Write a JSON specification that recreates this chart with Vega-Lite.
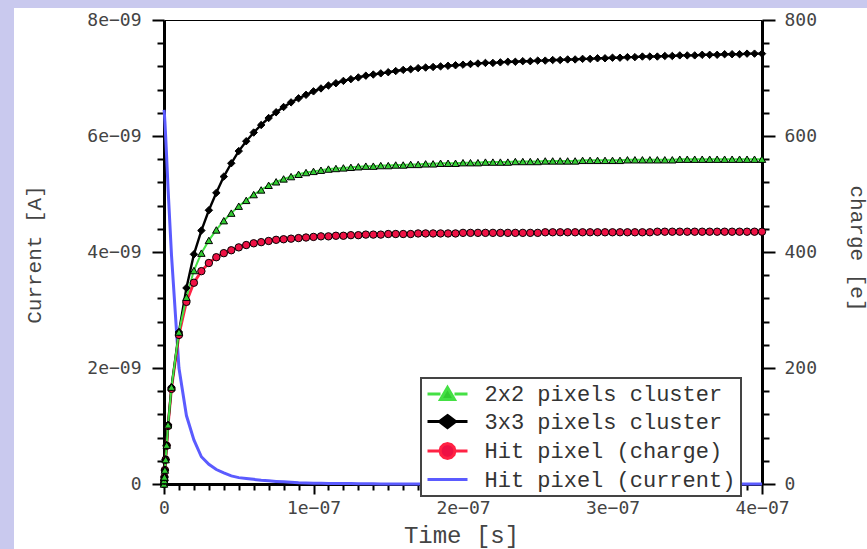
{
  "$schema": "https://vega.github.io/schema/vega-lite/v6.json",
  "width": 853,
  "height": 541,
  "autosize": "none",
  "padding": {"left": 14, "top": 8, "right": 0, "bottom": 0},
  "background": "#c9c9ee",
  "config": {
    "view": {"fill": "white", "stroke": null},
    "axis": {
      "grid": false,
      "zindex": 1,
      "domainColor": "black",
      "domainWidth": 3,
      "tickColor": "black",
      "tickWidth": 2,
      "labelFont": "DejaVu Sans Mono",
      "labelFontSize": 18,
      "labelColor": "#444",
      "labelOverlap": false,
      "labelFlush": false,
      "titleFont": "Liberation Mono",
      "titleFontWeight": "normal",
      "titleColor": "#444"
    }
  },
  "data": {
    "values": [
      {"t": 0, "c2": 0, "c3": 0, "hit": 0, "cur": 6.45e-9},
      {"t": 1.5e-10, "c2": 6, "c3": 6, "hit": 6, "cur": 6.42e-9},
      {"t": 3e-10, "c2": 12, "c3": 12, "hit": 12, "cur": 6.37e-9},
      {"t": 6e-10, "c2": 24, "c3": 24, "hit": 24, "cur": 6.25e-9},
      {"t": 1.1e-9, "c2": 42, "c3": 42, "hit": 42, "cur": 6.0e-9},
      {"t": 1.8e-9, "c2": 67, "c3": 67, "hit": 66, "cur": 5.62e-9},
      {"t": 2.7e-9, "c2": 102, "c3": 102, "hit": 100, "cur": 5.1e-9},
      {"t": 5e-9, "c2": 167, "c3": 167, "hit": 164, "cur": 3.95e-9},
      {"t": 1e-8, "c2": 262, "c3": 262, "hit": 257, "cur": 2.0e-9},
      {"t": 1.5e-8, "c2": 322, "c3": 338, "hit": 314, "cur": 1.18e-9},
      {"t": 2e-8, "c2": 368, "c3": 396, "hit": 347, "cur": 7.6e-10},
      {"t": 2.5e-8, "c2": 398, "c3": 437, "hit": 367, "cur": 4.7e-10},
      {"t": 3e-8, "c2": 420, "c3": 472, "hit": 381, "cur": 3.4e-10},
      {"t": 3.5e-8, "c2": 438, "c3": 502, "hit": 391, "cur": 2.5e-10},
      {"t": 4e-8, "c2": 454, "c3": 530, "hit": 398, "cur": 1.9e-10},
      {"t": 4.5e-8, "c2": 467, "c3": 553, "hit": 403, "cur": 1.4e-10},
      {"t": 5e-8, "c2": 479, "c3": 574, "hit": 408, "cur": 1.1e-10},
      {"t": 5.5e-8, "c2": 489, "c3": 591, "hit": 412, "cur": 9.5e-11},
      {"t": 6e-8, "c2": 499, "c3": 606, "hit": 415, "cur": 8e-11},
      {"t": 6.5e-8, "c2": 507, "c3": 619, "hit": 417, "cur": 6.5e-11},
      {"t": 7e-8, "c2": 515, "c3": 631, "hit": 419, "cur": 5.5e-11},
      {"t": 7.5e-8, "c2": 521, "c3": 641, "hit": 421, "cur": 4.5e-11},
      {"t": 8e-8, "c2": 526, "c3": 650, "hit": 422, "cur": 3.7e-11},
      {"t": 8.5e-8, "c2": 530, "c3": 658, "hit": 423, "cur": 3e-11},
      {"t": 9e-8, "c2": 534, "c3": 665, "hit": 424, "cur": 2.2e-11},
      {"t": 9.5e-8, "c2": 537, "c3": 671, "hit": 425, "cur": 1.8e-11},
      {"t": 1e-7, "c2": 539, "c3": 677, "hit": 426, "cur": 1.5e-11},
      {"t": 1.05e-7, "c2": 541, "c3": 682, "hit": 427, "cur": 1.2e-11},
      {"t": 1.1e-7, "c2": 543, "c3": 687, "hit": 427, "cur": 1e-11},
      {"t": 1.15e-7, "c2": 544, "c3": 691, "hit": 428, "cur": 9e-12},
      {"t": 1.2e-7, "c2": 545, "c3": 695, "hit": 428, "cur": 8e-12},
      {"t": 1.25e-7, "c2": 546, "c3": 698, "hit": 429, "cur": 7e-12},
      {"t": 1.3e-7, "c2": 547, "c3": 701, "hit": 429, "cur": 6e-12},
      {"t": 1.35e-7, "c2": 548, "c3": 704, "hit": 430, "cur": 4e-12},
      {"t": 1.4e-7, "c2": 548, "c3": 706, "hit": 430, "cur": 3e-12},
      {"t": 1.45e-7, "c2": 549, "c3": 708, "hit": 430, "cur": 2e-12},
      {"t": 1.5e-7, "c2": 549, "c3": 710, "hit": 431, "cur": 2e-12},
      {"t": 1.55e-7, "c2": 550, "c3": 712, "hit": 431, "cur": 1e-12},
      {"t": 1.6e-7, "c2": 550, "c3": 714, "hit": 431, "cur": 1e-12},
      {"t": 1.65e-7, "c2": 551, "c3": 715, "hit": 431, "cur": 0},
      {"t": 1.7e-7, "c2": 551, "c3": 717, "hit": 432, "cur": 0},
      {"t": 1.75e-7, "c2": 552, "c3": 718, "hit": 432, "cur": 0},
      {"t": 1.8e-7, "c2": 552, "c3": 719, "hit": 432, "cur": 0},
      {"t": 1.85e-7, "c2": 553, "c3": 720, "hit": 432, "cur": 0},
      {"t": 1.9e-7, "c2": 553, "c3": 721, "hit": 432, "cur": 0},
      {"t": 1.95e-7, "c2": 553, "c3": 722, "hit": 432, "cur": 0},
      {"t": 2e-7, "c2": 554, "c3": 723, "hit": 433, "cur": 0},
      {"t": 2.05e-7, "c2": 554, "c3": 724, "hit": 433, "cur": 0},
      {"t": 2.1e-7, "c2": 554, "c3": 725, "hit": 433, "cur": 0},
      {"t": 2.15e-7, "c2": 555, "c3": 726, "hit": 433, "cur": 0},
      {"t": 2.2e-7, "c2": 555, "c3": 726, "hit": 433, "cur": 0},
      {"t": 2.25e-7, "c2": 555, "c3": 727, "hit": 433, "cur": 0},
      {"t": 2.3e-7, "c2": 555, "c3": 728, "hit": 433, "cur": 0},
      {"t": 2.35e-7, "c2": 556, "c3": 728, "hit": 433, "cur": 0},
      {"t": 2.4e-7, "c2": 556, "c3": 729, "hit": 433, "cur": 0},
      {"t": 2.45e-7, "c2": 556, "c3": 729, "hit": 433, "cur": 0},
      {"t": 2.5e-7, "c2": 556, "c3": 730, "hit": 433, "cur": 0},
      {"t": 2.55e-7, "c2": 557, "c3": 730, "hit": 434, "cur": 0},
      {"t": 2.6e-7, "c2": 557, "c3": 731, "hit": 434, "cur": 0},
      {"t": 2.65e-7, "c2": 557, "c3": 731, "hit": 434, "cur": 0},
      {"t": 2.7e-7, "c2": 557, "c3": 732, "hit": 434, "cur": 0},
      {"t": 2.75e-7, "c2": 557, "c3": 732, "hit": 434, "cur": 0},
      {"t": 2.8e-7, "c2": 558, "c3": 733, "hit": 434, "cur": 0},
      {"t": 2.85e-7, "c2": 558, "c3": 733, "hit": 434, "cur": 0},
      {"t": 2.9e-7, "c2": 558, "c3": 734, "hit": 434, "cur": 0},
      {"t": 2.95e-7, "c2": 558, "c3": 734, "hit": 434, "cur": 0},
      {"t": 3e-7, "c2": 558, "c3": 735, "hit": 434, "cur": 0},
      {"t": 3.05e-7, "c2": 558, "c3": 735, "hit": 434, "cur": 0},
      {"t": 3.1e-7, "c2": 559, "c3": 736, "hit": 434, "cur": 0},
      {"t": 3.15e-7, "c2": 559, "c3": 736, "hit": 434, "cur": 0},
      {"t": 3.2e-7, "c2": 559, "c3": 737, "hit": 434, "cur": 0},
      {"t": 3.25e-7, "c2": 559, "c3": 737, "hit": 434, "cur": 0},
      {"t": 3.3e-7, "c2": 559, "c3": 737, "hit": 435, "cur": 0},
      {"t": 3.35e-7, "c2": 559, "c3": 738, "hit": 435, "cur": 0},
      {"t": 3.4e-7, "c2": 559, "c3": 738, "hit": 435, "cur": 0},
      {"t": 3.45e-7, "c2": 560, "c3": 739, "hit": 435, "cur": 0},
      {"t": 3.5e-7, "c2": 560, "c3": 739, "hit": 435, "cur": 0},
      {"t": 3.55e-7, "c2": 560, "c3": 739, "hit": 435, "cur": 0},
      {"t": 3.6e-7, "c2": 560, "c3": 740, "hit": 435, "cur": 0},
      {"t": 3.65e-7, "c2": 560, "c3": 740, "hit": 435, "cur": 0},
      {"t": 3.7e-7, "c2": 560, "c3": 740, "hit": 435, "cur": 0},
      {"t": 3.75e-7, "c2": 560, "c3": 741, "hit": 435, "cur": 0},
      {"t": 3.8e-7, "c2": 560, "c3": 741, "hit": 435, "cur": 0},
      {"t": 3.85e-7, "c2": 560, "c3": 741, "hit": 435, "cur": 0},
      {"t": 3.9e-7, "c2": 560, "c3": 742, "hit": 435, "cur": 0},
      {"t": 3.95e-7, "c2": 560, "c3": 742, "hit": 435, "cur": 0},
      {"t": 4e-7, "c2": 560, "c3": 742, "hit": 435, "cur": 0}
    ]
  },
  "layer": [
    {
      "mark": {"type": "line", "strokeWidth": 3},
      "encoding": {
        "x": {
          "field": "t",
          "type": "quantitative",
          "scale": {"domain": [0, 4e-7], "range": [150, 748], "nice": false},
          "axis": {
            "orient": "bottom",
            "offset": -65,
            "values": [0, 1e-8, 2e-8, 3e-8, 4e-8, 5e-8, 6e-8, 7e-8, 8e-8, 9e-8, 1e-7, 1.1e-7, 1.2e-7, 1.3e-7, 1.4e-7, 1.5e-7, 1.6e-7, 1.7e-7, 1.8e-7, 1.9e-7, 2e-7, 2.1e-7, 2.2e-7, 2.3e-7, 2.4e-7, 2.5e-7, 2.6e-7, 2.7e-7, 2.8e-7, 2.9e-7, 3e-7, 3.1e-7, 3.2e-7, 3.3e-7, 3.4e-7, 3.5e-7, 3.6e-7, 3.7e-7, 3.8e-7, 3.9e-7, 4e-7],
            "tickSize": {"condition": {"test": "abs(datum.value*1e7 - round(datum.value*1e7)) < 0.01", "value": 10}, "value": 6},
            "labelExpr": "abs(datum.value*1e7 - round(datum.value*1e7)) < 0.01 ? (datum.value == 0 ? '0' : round(datum.value*1e7) + 'e−07') : ''",
            "labelPadding": 5,
            "title": "Time [s]",
            "titleFontSize": 24,
            "titleX": 447,
            "titleY": 58,
            "titleAlign": "center",
            "titleBaseline": "alphabetic"
          }
        },
        "y": {
          "field": "cur",
          "type": "quantitative",
          "scale": {"domain": [0, 8e-9], "range": [476, 12], "nice": false, "zero": true},
          "axis": {
            "orient": "left",
            "offset": -150,
            "values": [0, 4e-10, 8e-10, 1.2e-9, 1.6e-9, 2e-9, 2.4e-9, 2.8e-9, 3.2e-9, 3.6e-9, 4e-9, 4.4e-9, 4.8e-9, 5.2e-9, 5.6e-9, 6e-9, 6.4e-9, 6.8e-9, 7.2e-9, 7.6e-9, 8e-9],
            "tickSize": {"condition": {"test": "abs(datum.value*5e8 - round(datum.value*5e8)) < 0.01", "value": 12}, "value": 7},
            "labelExpr": "abs(datum.value*5e8 - round(datum.value*5e8)) < 0.01 ? (datum.value == 0 ? '0' : round(datum.value*1e9) + 'e−09') : ''",
            "labelPadding": 11,
            "title": "Current [A]",
            "titleFontSize": 21,
            "titleAngle": -90,
            "titleX": -124,
            "titleY": 246,
            "titleAlign": "center",
            "titleBaseline": "alphabetic"
          }
        },
        "color": {
          "datum": "cur",
          "type": "nominal",
          "scale": {"domain": ["c2", "c3", "hit", "cur"], "range": ["#44e044", "#000000", "#ff2244", "#5b5bff"]},
          "legend": {
            "orient": "none",
            "legendX": 407,
            "legendY": 370,
            "title": null,
            "symbolType": "M-4,0H4",
            "symbolSize": 100,
            "symbolStrokeWidth": 3,
            "symbolOffset": 10.5,
            "labelOffset": 26,
            "labelFont": "Liberation Mono",
            "labelFontSize": 22,
            "labelLimit": 400,
            "labelColor": "#333",
            "labelExpr": "{'c2': '2x2 pixels cluster', 'c3': '3x3 pixels cluster', 'hit': 'Hit pixel (charge)', 'cur': 'Hit pixel (current)'}[datum.value]",
            "rowPadding": 3.5,
            "padding": 5,
            "fillColor": "white",
            "strokeColor": "#444",
            "encode": {
              "legend": {"update": {"strokeWidth": {"value": 2}}},
              "symbols": {
                "update": {
                  "shape": {"signal": "datum.value === 'c2' ? 'M-4,0H-1.4M1.4,0H4M0,-1.3L1.4,1.1L-1.4,1.1Z' : datum.value === 'c3' ? 'M-4,0H-1.6M1.6,0H4M0,-1.2L1.6,0L0,1.2L-1.6,0Z' : datum.value === 'hit' ? 'M-4,0H-1.5M1.5,0H4M1.5,0L1.3,0.75L0.75,1.3L0,1.5L-0.75,1.3L-1.3,0.75L-1.5,0L-1.3,-0.75L-0.75,-1.3L0,-1.5L0.75,-1.3L1.3,-0.75Z' : 'M-4,0H4'"},
                  "fill": {"signal": "datum.value === 'c2' ? '#33cc33' : datum.value === 'c3' ? '#000000' : datum.value === 'hit' ? '#ee1144' : 'transparent'"}
                }
              }
            }
          }
        }
      }
    },
    {
      "transform": [{"fold": ["hit", "c3", "c2"], "as": ["series", "charge"]}],
      "encoding": {
        "x": {
          "field": "t",
          "type": "quantitative",
          "axis": {"orient": "top", "offset": -12, "labels": false, "ticks": false, "domainWidth": 1, "title": null}
        },
        "y": {
          "field": "charge",
          "type": "quantitative",
          "scale": {"domain": [0, 800], "range": [476, 12], "nice": false},
          "axis": {
            "orient": "right",
            "offset": -105,
            "values": [0, 40, 80, 120, 160, 200, 240, 280, 320, 360, 400, 440, 480, 520, 560, 600, 640, 680, 720, 760, 800],
            "tickSize": {"condition": {"test": "datum.value % 200 == 0", "value": 13}, "value": 7},
            "labelExpr": "datum.value % 200 == 0 ? datum.label : ''",
            "labelPadding": 9,
            "title": "charge [e]",
            "titleFontSize": 21,
            "titleAngle": 90,
            "titleX": 88,
            "titleY": 240,
            "titleAlign": "center",
            "titleBaseline": "alphabetic"
          }
        }
      },
      "layer": [
        {
          "mark": {"type": "line"},
          "encoding": {
            "color": {
              "field": "series",
              "type": "nominal",
              "legend": {
                "orient": "none",
                "legendX": 407,
                "legendY": 370,
                "title": null,
                "symbolType": "M-4,0H4",
                "symbolSize": 100,
                "symbolStrokeWidth": 3,
                "symbolOffset": 10.5,
                "labelOffset": 26,
                "labelFont": "Liberation Mono",
                "labelFontSize": 22,
                "labelLimit": 400,
                "labelColor": "#333",
                "labelExpr": "{'c2': '2x2 pixels cluster', 'c3': '3x3 pixels cluster', 'hit': 'Hit pixel (charge)', 'cur': 'Hit pixel (current)'}[datum.value]",
                "rowPadding": 3.5,
                "padding": 5,
                "fillColor": "white",
                "strokeColor": "#444",
                "encode": {
                  "legend": {"update": {"strokeWidth": {"value": 2}}},
                  "symbols": {
                    "update": {
                      "shape": {"signal": "datum.value === 'c2' ? 'M-4,0H-1.4M1.4,0H4M0,-1.3L1.4,1.1L-1.4,1.1Z' : datum.value === 'c3' ? 'M-4,0H-1.6M1.6,0H4M0,-1.2L1.6,0L0,1.2L-1.6,0Z' : datum.value === 'hit' ? 'M-4,0H-1.5M1.5,0H4M1.5,0L1.3,0.75L0.75,1.3L0,1.5L-0.75,1.3L-1.3,0.75L-1.5,0L-1.3,-0.75L-0.75,-1.3L0,-1.5L0.75,-1.3L1.3,-0.75Z' : 'M-4,0H4'"},
                      "fill": {"signal": "datum.value === 'c2' ? '#33cc33' : datum.value === 'c3' ? '#000000' : datum.value === 'hit' ? '#ee1144' : 'transparent'"}
                    }
                  }
                }
              }
            },
            "strokeWidth": {
              "field": "series",
              "type": "nominal",
              "scale": {"domain": ["c2", "c3", "hit"], "range": [2, 2.8, 1.5]},
              "legend": null
            }
          }
        },
        {
          "mark": {"type": "point", "filled": true, "stroke": "black", "strokeWidth": 1, "opacity": 1, "size": 55},
          "encoding": {
            "fill": {
              "field": "series",
              "type": "nominal",
              "scale": {"domain": ["c2", "c3", "hit"], "range": ["#33cc33", "#000000", "#ee1144"]},
              "legend": null
            },
            "shape": {
              "field": "series",
              "type": "nominal",
              "scale": {"domain": ["c2", "c3", "hit"], "range": ["triangle-up", "diamond", "circle"]},
              "legend": null
            }
          }
        }
      ]
    }
  ],
  "resolve": {
    "scale": {"y": "independent"},
    "axis": {"x": "independent", "y": "independent"}
  }
}
